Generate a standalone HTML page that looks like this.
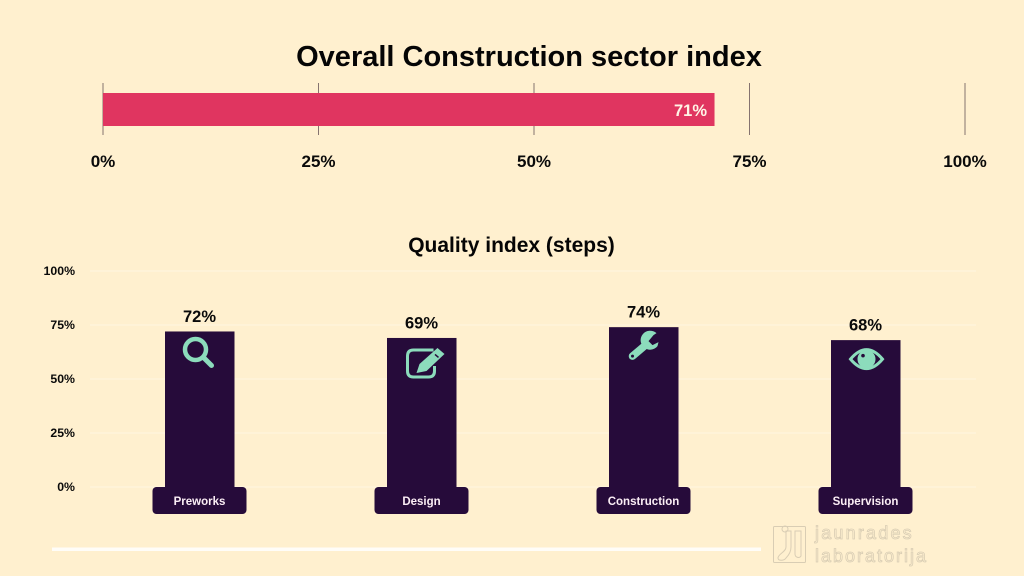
<!DOCTYPE html>
<html lang="en">
<head>
<meta charset="utf-8">
<title>Overall Construction sector index</title>
<style>
html,body{margin:0;padding:0;background:#fff0cf;}
#stage{display:block;width:1024px;height:576px;background:#fff0cf;}
text{font-family:"Liberation Sans",sans-serif;font-weight:700;}
</style>
</head>
<body>
<svg id="stage" xmlns="http://www.w3.org/2000/svg" width="1024" height="576" viewBox="0 0 1024 576">
  <text x="529" y="66" font-size="29" text-anchor="middle" fill="#050505">Overall Construction sector index</text>
  <g id="top-axis"></g>
  <g id="top-bar"></g>
  <text x="511.500" y="252" font-size="21" text-anchor="middle" fill="#050505">Quality index (steps)</text>
  <g id="grid"></g>
  <g id="bars"></g>
  <rect x="52" y="547.500" width="709" height="3.500" fill="#fffdf8"/>
  <g fill="none" stroke="#d9cdb4" stroke-width="1">
    <rect x="773.500" y="526.500" width="32" height="36" rx="1"/>
    <path d="M786 531v16c0 5-8 7-8 11 0 3 6 3 8 0 3-3 5-6 5-11v-16z"/>
    <path d="M795 531v23c0 3 4 5 6 2v-25z"/>
    <circle cx="785" cy="529" r="3"/>
    <text x="815" y="539" font-size="18" letter-spacing="2.200" stroke-width="0.800" style="font-weight:400">jaunrades</text>
    <text x="815" y="562" font-size="18" letter-spacing="2" stroke-width="0.800" style="font-weight:400">laboratorija</text>
  </g>
</svg>
<script>
const overallValue = 71;
const overallTicks = [0, 25, 50, 75, 100];
const categories = ["Preworks", "Design", "Construction", "Supervision"];
const qualityValues = [72, 69, 74, 68];
const qualityTicks = [0, 25, 50, 75, 100];

const NS = "http://www.w3.org/2000/svg";
function make(tag, parent, attrs, content) {
  const el = document.createElementNS(NS, tag);
  for (const k in attrs) el.setAttribute(k, attrs[k]);
  if (content !== undefined) el.textContent = content;
  parent.appendChild(el);
  return el;
}
const xTop = v => 103 + v * 8.62;
const yQuality = v => 487 - v * 2.16;
const xCategory = i => 199.500 + i * 222;

const topAxis = document.getElementById("top-axis");
overallTicks.forEach(t => {
  const line = make("line", topAxis, {x1: xTop(t), x2: xTop(t), y1: 83, y2: 135, stroke: "#85736f", "stroke-width": 1});
  
  
  const label = make("text", topAxis, {x: xTop(t), y: 167, "font-size": 17, "text-anchor": "middle", fill: "#0a0a0a"}, t + "%");
  
  
});

const topBar = document.getElementById("top-bar");
const overallRect = make("rect", topBar, {x: xTop(0), y: 93, width: xTop(overallValue) - xTop(0) - 0.5, height: 33, fill: "#e03560"});


const overallLabel = make("text", topBar, {x: xTop(overallValue) - 8, y: 116, "font-size": 16.500, "text-anchor": "end", fill: "#fff4e6"}, overallValue + "%");



const grid = document.getElementById("grid");
qualityTicks.forEach(t => {
  const line = make("line", grid, {x1: 90, x2: 976, y1: yQuality(t), y2: yQuality(t), stroke: "#fff4dc", "stroke-width": 1.500});
  
  
  const label = make("text", grid, {x: 75, y: yQuality(t) + 4, "font-size": 12.300, "text-anchor": "end", fill: "#0a0a0a"}, t + "%");
  
  
});

const ICON = "#8cdcbc";
const iconDrawers = [
  function search(g) {
    make("circle", g, {cx: -3, cy: -3, r: 10.500, fill: "none", stroke: ICON, "stroke-width": 4.500});
    make("line", g, {x1: 5, y1: 5, x2: 13, y2: 13, stroke: ICON, "stroke-width": 5, "stroke-linecap": "round"});
  },
  function pencil(g) {
    make("path", g, {d: "M8 -13H-12Q-18 -13 -18 -7V8Q-18 14 -12 14H3Q9 14 9 8V3", fill: "none", stroke: ICON, "stroke-width": 3});
    make("path", g, {d: "M12 -15L19 -9L1 8L-9 10L-6 1Z", fill: ICON});
    make("path", g, {d: "M9.500 -8.500L13 -5.500", stroke: "#260b3a", "stroke-width": 1.500, fill: "none"});
  },
  function wrench(g) {
    make("path", g, {d: "M2 -2L-11 9", stroke: ICON, "stroke-width": 7.500, "stroke-linecap": "round", fill: "none"});
    make("path", g, {d: "M13 -14A9.500 9.500 0 1 0 14 -1L15 -5L9 -2L5 -6L10 -12Z", fill: ICON});
    make("circle", g, {cx: -11, cy: 9, r: 1.500, fill: "#260b3a"});
  },
  function eye(g) {
    make("path", g, {d: "M-16 0Q0 -19 16 0Q0 19 -16 0Z", fill: "none", stroke: ICON, "stroke-width": 3});
    make("circle", g, {cx: 0, cy: 0, r: 9, fill: ICON});
    make("circle", g, {cx: -3.500, cy: -3.500, r: 1.800, fill: "#260b3a"});
  }
];
const iconOffsets = [[-1, 21], [4, 25], [0, 20], [1, 19]];

const bars = document.getElementById("bars");
categories.forEach((name, i) => {
  const v = qualityValues[i];
  const cx = xCategory(i);
  const top = yQuality(v);
  const bar = make("rect", bars, {x: cx - 34.500, y: top, width: 69.500, height: yQuality(0) - top, fill: "#260b3a"});
  
  
  const val = make("text", bars, {x: cx, y: top - 9.500, "font-size": 16.500, "text-anchor": "middle", fill: "#0a0a0a"}, v + "%");
  
  
  const icon = make("g", bars, {transform: "translate(" + (cx + iconOffsets[i][0]) + " " + (top + iconOffsets[i][1]) + ")"});
  
  
  iconDrawers[i](icon);
  const pill = make("rect", bars, {x: cx - 47, y: 487, width: 94, height: 27, rx: 4, fill: "#260b3a"});
  
  
  const label = make("text", bars, {x: cx, y: 505, "font-size": 11.500, "text-anchor": "middle", fill: "#fbeef5"}, name);
  
  
});
</script>
</body>
</html>
